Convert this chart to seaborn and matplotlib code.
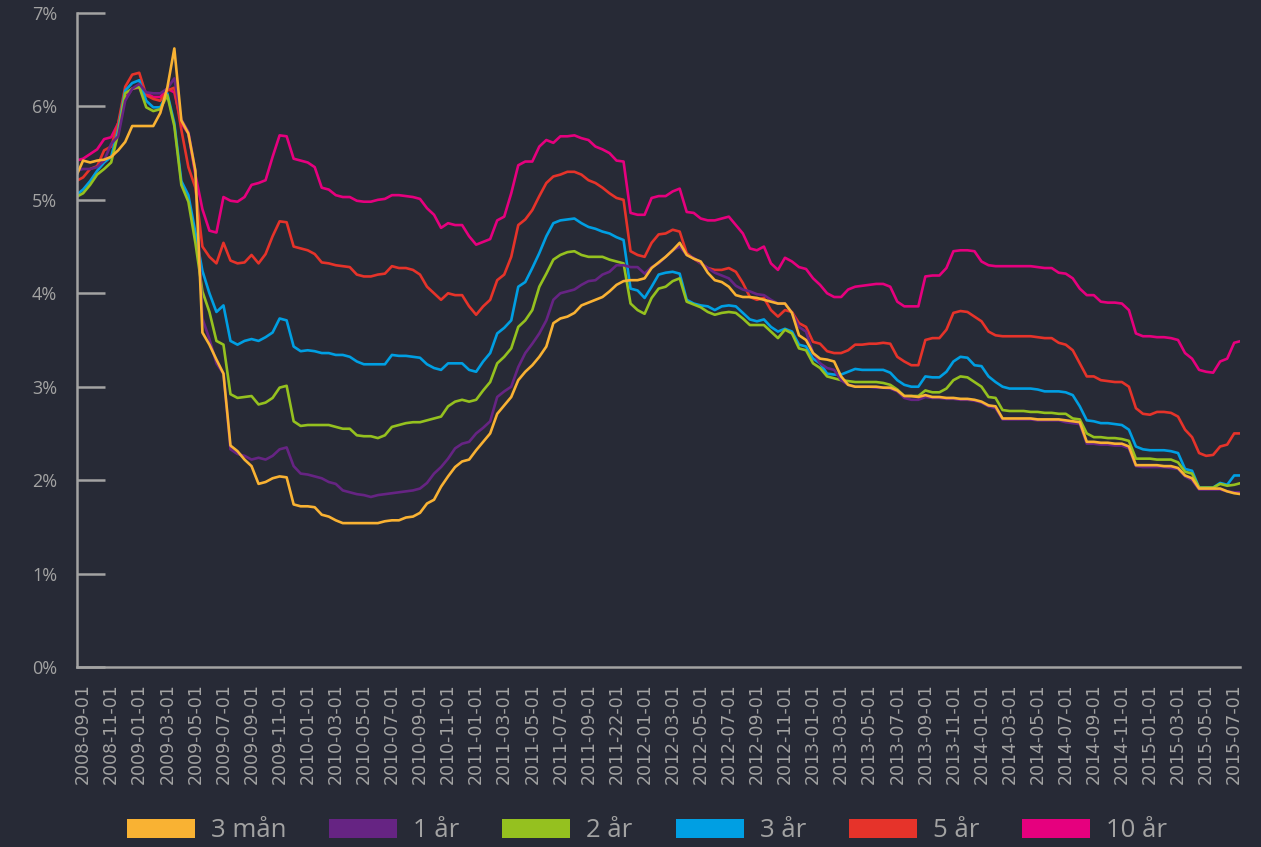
import numpy as np
import pandas as pd
import matplotlib
matplotlib.use("Agg")
import matplotlib.pyplot as plt
from matplotlib.patches import Patch
import seaborn as sns

# löptider och färger
series_names = ["3 mån", "1 år", "2 år", "3 år", "5 år", "10 år"]
series_colors = ["#f9b233", "#662483", "#95c11f", "#009fe3", "#e6332a", "#e6007e"]

tick_labels = ["2008-09-01", "2008-11-01", "2009-01-01", "2009-03-01", "2009-05-01",
               "2009-07-01", "2009-09-01", "2009-11-01", "2010-01-01", "2010-03-01",
               "2010-05-01", "2010-07-01", "2010-09-01", "2010-11-01", "2011-01-01",
               "2011-03-01", "2011-05-01", "2011-07-01", "2011-09-01", "2011-22-01",
               "2012-01-01", "2012-03-01", "2012-05-01", "2012-07-01", "2012-09-01",
               "2012-11-01", "2013-01-01", "2013-03-01", "2013-05-01", "2013-07-01",
               "2013-09-01", "2013-11-01", "2014-01-01", "2014-03-01", "2014-05-01",
               "2014-07-01", "2014-09-01", "2014-11-01", "2015-01-01", "2015-03-01",
               "2015-05-01", "2015-07-01"]

# halvmånadssteg, 0 = 2008-09-01
half_months = np.arange(167) * 0.5 - 0.5

rate_3m = [5.25, 5.42, 5.40, 5.42, 5.43, 5.46, 5.53, 5.62, 5.79, 5.79,
           5.79, 5.79, 5.93, 6.20, 6.62, 5.85, 5.71, 5.31, 3.58, 3.45,
           3.29, 3.14, 2.37, 2.31, 2.22, 2.15, 1.96, 1.98, 2.02, 2.04,
           2.03, 1.74, 1.72, 1.72, 1.71, 1.63, 1.61, 1.57, 1.54, 1.54,
           1.54, 1.54, 1.54, 1.54, 1.56, 1.57, 1.57, 1.60, 1.61, 1.65,
           1.75, 1.79, 1.93, 2.04, 2.14, 2.20, 2.22, 2.32, 2.41, 2.50,
           2.71, 2.80, 2.89, 3.07, 3.16, 3.23, 3.32, 3.43, 3.68, 3.73,
           3.75, 3.79, 3.87, 3.90, 3.93, 3.96, 4.02, 4.09, 4.13, 4.14,
           4.14, 4.16, 4.27, 4.33, 4.39, 4.46, 4.54, 4.41, 4.37, 4.34,
           4.22, 4.14, 4.12, 4.07, 3.98, 3.96, 3.96, 3.95, 3.93, 3.91,
           3.89, 3.89, 3.79, 3.55, 3.50, 3.36, 3.30, 3.29, 3.27, 3.11,
           3.02, 3.00, 3.00, 3.00, 3.00, 2.99, 2.99, 2.96, 2.90, 2.90,
           2.89, 2.91, 2.89, 2.89, 2.88, 2.88, 2.87, 2.87, 2.86, 2.84,
           2.80, 2.79, 2.66, 2.66, 2.66, 2.66, 2.66, 2.65, 2.65, 2.65,
           2.65, 2.64, 2.63, 2.62, 2.41, 2.41, 2.40, 2.40, 2.39, 2.39,
           2.36, 2.16, 2.16, 2.16, 2.16, 2.15, 2.15, 2.13, 2.05, 2.02,
           1.91, 1.91, 1.91, 1.91, 1.88, 1.86, 1.85]

rate_1y = [5.31, 5.33, 5.33, 5.35, 5.42, 5.60, 5.68, 6.06, 6.19, 6.24,
           6.15, 6.14, 6.14, 6.19, 6.30, 5.86, 5.73, 5.31, 3.73, 3.51,
           3.25, 3.14, 2.33, 2.28, 2.26, 2.22, 2.24, 2.22, 2.26, 2.33,
           2.35, 2.15, 2.07, 2.06, 2.04, 2.02, 1.98, 1.96, 1.89, 1.87,
           1.85, 1.84, 1.82, 1.84, 1.85, 1.86, 1.87, 1.88, 1.89, 1.91,
           1.97, 2.07, 2.14, 2.23, 2.34, 2.39, 2.41, 2.50, 2.56, 2.63,
           2.89, 2.95, 3.00, 3.21, 3.36, 3.46, 3.57, 3.71, 3.93, 4.00,
           4.02, 4.04, 4.09, 4.13, 4.14, 4.20, 4.23, 4.30, 4.30, 4.28,
           4.28, 4.21, 4.28, 4.32, 4.39, 4.46, 4.50, 4.41, 4.38, 4.32,
           4.27, 4.22, 4.19, 4.16, 4.08, 4.04, 4.02, 3.99, 3.98, 3.93,
           3.89, 3.89, 3.79, 3.64, 3.59, 3.36, 3.25, 3.20, 3.18, 3.07,
           3.02, 3.00, 3.00, 3.00, 2.99, 2.99, 2.98, 2.95, 2.88, 2.86,
           2.86, 2.89, 2.88, 2.88, 2.87, 2.87, 2.86, 2.86, 2.85, 2.83,
           2.79, 2.77, 2.65, 2.65, 2.65, 2.65, 2.65, 2.64, 2.64, 2.64,
           2.64, 2.62, 2.61, 2.60, 2.39, 2.39, 2.38, 2.38, 2.37, 2.37,
           2.34, 2.15, 2.14, 2.14, 2.14, 2.14, 2.13, 2.12, 2.04, 2.00,
           1.90, 1.90, 1.90, 1.90, 1.88, 1.87, 1.87]

rate_2y = [5.03, 5.07, 5.16, 5.27, 5.33, 5.40, 5.71, 6.14, 6.19, 6.21,
           5.99, 5.95, 5.97, 6.12, 5.79, 5.16, 4.98, 4.54, 4.02, 3.80,
           3.49, 3.45, 2.92, 2.88, 2.89, 2.90, 2.81, 2.83, 2.88, 2.99,
           3.01, 2.63, 2.58, 2.59, 2.59, 2.59, 2.59, 2.57, 2.55, 2.55,
           2.48, 2.47, 2.47, 2.45, 2.48, 2.57, 2.59, 2.61, 2.62, 2.62,
           2.64, 2.66, 2.68, 2.79, 2.84, 2.86, 2.84, 2.86, 2.96, 3.05,
           3.25, 3.32, 3.41, 3.64, 3.71, 3.82, 4.07, 4.21, 4.36, 4.41,
           4.44, 4.45, 4.41, 4.39, 4.39, 4.39, 4.36, 4.34, 4.32, 3.89,
           3.82, 3.78, 3.95, 4.05, 4.07, 4.13, 4.16, 3.91, 3.88, 3.85,
           3.80, 3.77, 3.79, 3.80, 3.79, 3.73, 3.66, 3.66, 3.66, 3.59,
           3.52, 3.61, 3.57, 3.41, 3.39, 3.25, 3.20, 3.11, 3.09, 3.07,
           3.06, 3.05, 3.05, 3.05, 3.05, 3.04, 3.02, 2.97, 2.90, 2.90,
           2.90, 2.96, 2.94, 2.94, 2.98, 3.07, 3.11, 3.10, 3.05, 3.00,
           2.89, 2.88, 2.75, 2.74, 2.74, 2.74, 2.73, 2.73, 2.72, 2.72,
           2.71, 2.71, 2.66, 2.65, 2.50, 2.46, 2.46, 2.45, 2.45, 2.44,
           2.42, 2.23, 2.23, 2.23, 2.22, 2.22, 2.22, 2.19, 2.09, 2.07,
           1.92, 1.92, 1.92, 1.96, 1.94, 1.95, 1.97]

rate_3y = [5.05, 5.11, 5.20, 5.31, 5.40, 5.46, 5.75, 6.17, 6.25, 6.28,
           6.06, 5.99, 5.99, 6.14, 5.82, 5.20, 5.05, 4.65, 4.24, 4.00,
           3.80, 3.87, 3.49, 3.45, 3.49, 3.51, 3.49, 3.53, 3.58, 3.73,
           3.71, 3.43, 3.38, 3.39, 3.38, 3.36, 3.36, 3.34, 3.34, 3.32,
           3.27, 3.24, 3.24, 3.24, 3.24, 3.34, 3.33, 3.33, 3.32, 3.31,
           3.24, 3.20, 3.18, 3.25, 3.25, 3.25, 3.18, 3.16, 3.27, 3.36,
           3.57, 3.63, 3.71, 4.07, 4.12, 4.27, 4.43, 4.61, 4.75, 4.78,
           4.79, 4.80, 4.75, 4.71, 4.69, 4.66, 4.64, 4.60, 4.57, 4.05,
           4.03, 3.95, 4.07, 4.20, 4.22, 4.23, 4.21, 3.93, 3.89, 3.87,
           3.86, 3.82, 3.86, 3.87, 3.86, 3.79, 3.72, 3.70, 3.72, 3.64,
           3.59, 3.62, 3.59, 3.45, 3.43, 3.30, 3.25, 3.14, 3.13, 3.13,
           3.16, 3.19, 3.18, 3.18, 3.18, 3.18, 3.15, 3.07, 3.02, 3.00,
           3.00, 3.11, 3.10, 3.10, 3.16, 3.27, 3.32, 3.31, 3.23, 3.22,
           3.11, 3.05, 3.00, 2.98, 2.98, 2.98, 2.98, 2.97, 2.95, 2.95,
           2.95, 2.94, 2.91, 2.79, 2.64, 2.63, 2.61, 2.61, 2.60, 2.59,
           2.54, 2.36, 2.33, 2.32, 2.32, 2.32, 2.31, 2.29, 2.12, 2.10,
           1.92, 1.92, 1.92, 1.97, 1.95, 2.05, 2.05]

rate_5y = [5.20, 5.24, 5.33, 5.36, 5.53, 5.57, 5.82, 6.21, 6.34, 6.36,
           6.12, 6.08, 6.06, 6.17, 6.20, 5.75, 5.35, 5.13, 4.50, 4.39,
           4.32, 4.54, 4.35, 4.32, 4.33, 4.41, 4.32, 4.42, 4.61, 4.77,
           4.76, 4.50, 4.48, 4.46, 4.42, 4.33, 4.32, 4.30, 4.29, 4.28,
           4.20, 4.18, 4.18, 4.20, 4.21, 4.29, 4.27, 4.27, 4.25, 4.20,
           4.07, 4.00, 3.93, 4.00, 3.98, 3.98, 3.86, 3.77, 3.86, 3.93,
           4.14, 4.20, 4.39, 4.73, 4.79, 4.89, 5.04, 5.18, 5.25, 5.27,
           5.30, 5.30, 5.27, 5.21, 5.18, 5.13, 5.07, 5.02, 5.00, 4.45,
           4.41, 4.39, 4.54, 4.63, 4.64, 4.68, 4.66, 4.43, 4.37, 4.32,
           4.27, 4.25, 4.25, 4.27, 4.23, 4.11, 3.96, 3.93, 3.95, 3.82,
           3.75, 3.82, 3.80, 3.68, 3.64, 3.48, 3.46, 3.38, 3.36, 3.36,
           3.39, 3.45, 3.45, 3.46, 3.46, 3.47, 3.46, 3.32, 3.27, 3.23,
           3.23, 3.50, 3.52, 3.52, 3.61, 3.79, 3.81, 3.80, 3.75, 3.70,
           3.59, 3.55, 3.54, 3.54, 3.54, 3.54, 3.54, 3.53, 3.52, 3.52,
           3.47, 3.45, 3.39, 3.25, 3.11, 3.11, 3.07, 3.06, 3.05, 3.05,
           3.00, 2.77, 2.71, 2.70, 2.73, 2.73, 2.72, 2.68, 2.54, 2.46,
           2.29, 2.26, 2.27, 2.36, 2.38, 2.50, 2.50]

rate_10y = [5.42, 5.44, 5.49, 5.54, 5.65, 5.67, 5.82, 6.08, 6.19, 6.20,
            6.14, 6.10, 6.10, 6.19, 6.15, 5.82, 5.71, 5.27, 4.90, 4.67,
            4.65, 5.03, 4.99, 4.98, 5.03, 5.16, 5.18, 5.21, 5.46, 5.69,
            5.68, 5.44, 5.42, 5.40, 5.35, 5.13, 5.11, 5.05, 5.03, 5.03,
            4.99, 4.98, 4.98, 5.00, 5.01, 5.05, 5.05, 5.04, 5.03, 5.01,
            4.91, 4.84, 4.70, 4.75, 4.73, 4.73, 4.61, 4.52, 4.55, 4.58,
            4.78, 4.82, 5.07, 5.37, 5.41, 5.41, 5.57, 5.64, 5.61, 5.68,
            5.68, 5.69, 5.66, 5.64, 5.57, 5.54, 5.50, 5.42, 5.41, 4.86,
            4.84, 4.84, 5.02, 5.04, 5.04, 5.09, 5.12, 4.87, 4.86, 4.80,
            4.78, 4.78, 4.80, 4.82, 4.73, 4.64, 4.48, 4.46, 4.50, 4.32,
            4.25, 4.38, 4.34, 4.28, 4.26, 4.16, 4.09, 4.00, 3.96, 3.96,
            4.04, 4.07, 4.08, 4.09, 4.10, 4.10, 4.07, 3.91, 3.86, 3.86,
            3.86, 4.18, 4.19, 4.19, 4.27, 4.45, 4.46, 4.46, 4.45, 4.34,
            4.30, 4.29, 4.29, 4.29, 4.29, 4.29, 4.29, 4.28, 4.27, 4.27,
            4.22, 4.21, 4.16, 4.05, 3.98, 3.98, 3.91, 3.90, 3.90, 3.89,
            3.82, 3.57, 3.54, 3.54, 3.53, 3.53, 3.52, 3.50, 3.36, 3.30,
            3.18, 3.16, 3.15, 3.27, 3.30, 3.47, 3.49]

# lång tabell för seaborn
wide = pd.DataFrame({"pos": half_months, "3 mån": rate_3m, "1 år": rate_1y,
                     "2 år": rate_2y, "3 år": rate_3y, "5 år": rate_5y,
                     "10 år": rate_10y})
df = wide.melt(id_vars="pos", var_name="löptid", value_name="ränta")

bg = "#272a36"
grey = "#a3a3a3"

sns.set_style("dark")
plt.rcParams["font.family"] = ["Open Sans", "DejaVu Sans"]

fig = plt.figure(figsize=(12.61, 8.47), dpi=100, facecolor=bg)
ax = fig.add_axes([0.0611, 0.2125, 0.9222, 0.7722])
ax.set_facecolor(bg)

sns.lineplot(data=df, x="pos", y="ränta", hue="löptid",
             hue_order=series_names[::-1],
             palette=dict(zip(series_names, series_colors)),
             estimator=None, sort=False, linewidth=1.9, legend=False, ax=ax)

ax.set_xlim(-0.43, 82.41)
ax.set_ylim(0, 7)
ax.set_yticks(range(8))
ax.set_yticklabels([f"{i}%" for i in range(8)])
ax.set_xticks(half_months[1::4])
ax.set_xticklabels(tick_labels, rotation=90, fontfamily="DejaVu Sans",
                   fontsize=12.5, color=grey)
# inåtriktade streck vid varje procent
ax.tick_params(axis="y", left=True, direction="in", length=20, width=1.8,
               color=grey, pad=14.4, labelsize=13, labelcolor=grey)
ax.tick_params(axis="x", bottom=False, length=0, pad=11.5)
ax.set_xlabel("")
ax.set_ylabel("")
ax.grid(False)
for s in ["top", "right"]:
    ax.spines[s].set_visible(False)
for s in ["left", "bottom"]:
    ax.spines[s].set_color(grey)
    ax.spines[s].set_linewidth(1.8)

# legend med färgade rutor
handles = [Patch(facecolor=c, edgecolor="none", label=n)
           for n, c in zip(series_names, series_colors)]
fig.legend(handles=handles, loc="center", bbox_to_anchor=(0.513, 0.019),
           ncol=6, frameon=False, prop={"family": "Open Sans", "size": 18.5},
           handlelength=2.65, handleheight=0.78, handletextpad=0.62,
           columnspacing=1.67, labelcolor=grey)

fig.savefig("out.png", dpi=100, facecolor=bg)
